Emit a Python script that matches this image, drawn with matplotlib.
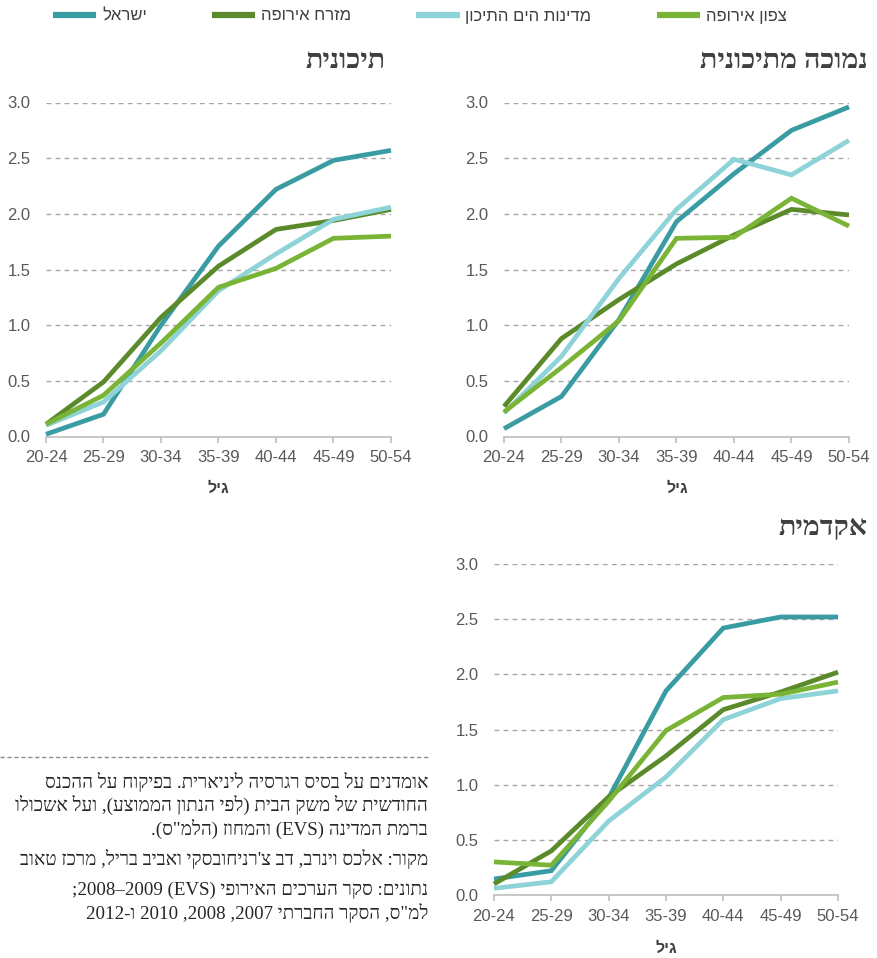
import re
import numpy as np
import matplotlib
matplotlib.use("Agg")
import matplotlib.pyplot as plt
from matplotlib.lines import Line2D

# ---------------- data ----------------
ages = ["20-24", "25-29", "30-34", "35-39", "40-44", "45-49", "50-54"]
series_names = ["ישראל", "מזרח אירופה", "מדינות הים התיכון", "צפון אירופה"]
series_colors = ["#3a9ca3", "#5a8a2a", "#8dd3d7", "#7ab436"]

# low education (נמוכה מתיכונית)
low_israel = [0.07, 0.36, 1.05, 1.93, 2.36, 2.75, 2.96]
low_east = [0.27, 0.88, 1.23, 1.55, 1.81, 2.04, 1.99]
low_med = [0.21, 0.72, 1.42, 2.04, 2.49, 2.35, 2.66]
low_north = [0.22, 0.62, 1.04, 1.78, 1.79, 2.14, 1.89]

# high school (תיכונית)
hs_israel = [0.02, 0.20, 1.00, 1.71, 2.22, 2.48, 2.57]
hs_east = [0.11, 0.49, 1.07, 1.53, 1.86, 1.94, 2.04]
hs_med = [0.10, 0.31, 0.77, 1.31, 1.64, 1.95, 2.06]
hs_north = [0.11, 0.37, 0.84, 1.34, 1.51, 1.78, 1.80]

# academic (אקדמית)
ac_israel = [0.145, 0.22, 0.88, 1.85, 2.42, 2.52, 2.52]
ac_east = [0.10, 0.40, 0.89, 1.26, 1.68, 1.84, 2.02]
ac_med = [0.06, 0.12, 0.67, 1.07, 1.59, 1.78, 1.85]
ac_north = [0.30, 0.27, 0.85, 1.49, 1.79, 1.82, 1.93]

yticks = [0.0, 0.5, 1.0, 1.5, 2.0, 2.5, 3.0]

title_low = "נמוכה מתיכונית"
title_hs = "תיכונית"
title_ac = "אקדמית"
xlabel = "גיל"

notes = [
    "אומדנים על בסיס רגרסיה ליניארית. בפיקוח על ההכנס",
    "החודשית של משק הבית (לפי הנתון הממוצע), ועל אשכולו",
    "ברמת המדינה (EVS) והמחוז (הלמ\"ס).",
    "מקור: אלכס וינרב, דב צ'רניחובסקי ואביב בריל, מרכז טאוב",
    "נתונים: סקר הערכים האירופי (EVS) 2008–2009;",
    "למ\"ס, הסקר החברתי 2007, 2008, 2010 ו-2012",
]


# ---------------- helpers ----------------
def vis(s):
    """Very small bidi: convert a logical RTL string into visual LTR order."""
    r = s[::-1]
    r = r.translate(str.maketrans("()", ")("))
    r = re.sub(r"[A-Za-z0-9]+(?:[–\-.][A-Za-z0-9]+)*", lambda m: m.group(0)[::-1], r)
    return r


W, H = 878, 958


def fx(x):
    return x / W


def fy(y):
    return 1 - y / H


SANS = ["Liberation Sans", "DejaVu Sans"]
SERIF = ["Liberation Serif", "DejaVu Serif", "DejaVu Sans"]
plt.rcParams["font.family"] = SANS

fig = plt.figure(figsize=(W / 100, H / 100), dpi=100)
fig.patch.set_facecolor("white")

TICK_COLOR = "#595959"
AX_COLOR = "#bfbfbf"
GRID_COLOR = "#a6a6a6"
LW = 3.4


def make_panel(x0, x1, ytop, ybot, data):
    ax = fig.add_axes([fx(x0), fy(ybot), (x1 - x0) / W, (ybot - ytop) / H])
    x = np.arange(len(ages))
    order = [2, 1, 3, 0]
    for i in order:
        ax.plot(x, data[i], color=series_colors[i], lw=LW, clip_on=False,
                solid_capstyle="butt", solid_joinstyle="miter", zorder=3 + i * 0.1)
    ax.set_xlim(0, len(ages) - 1)
    ax.set_ylim(0, 3)
    ax.set_xticks(x)
    ax.set_xticklabels(ages)
    ax.set_yticks(yticks)
    ax.set_yticklabels([f"{v:.1f}" for v in yticks])
    for s in ["left", "right", "top"]:
        ax.spines[s].set_visible(False)
    ax.spines["bottom"].set_color(AX_COLOR)
    ax.spines["bottom"].set_linewidth(1.2)
    ax.spines["bottom"].set_zorder(2.5)
    ax.tick_params(axis="y", length=0, pad=11, labelsize=12, labelcolor=TICK_COLOR)
    ax.tick_params(axis="x", length=4, width=1.2, color=AX_COLOR, pad=6,
                   labelsize=12, labelcolor=TICK_COLOR)
    ax.yaxis.grid(True, linestyle=(0, (3.5, 3)), color=GRID_COLOR, lw=1)
    ax.set_axisbelow(True)
    return ax


make_panel(504, 849, 102.5, 436.5, [low_israel, low_east, low_med, low_north])
make_panel(46, 391, 102.5, 436.5, [hs_israel, hs_east, hs_med, hs_north])
make_panel(494, 838, 564, 895, [ac_israel, ac_east, ac_med, ac_north])

TITLE_KW = dict(ha="right", va="center", fontsize=20.5, fontweight="bold",
                family=SERIF, color="#404040")
fig.text(fx(868), fy(62), vis(title_low), **TITLE_KW)
fig.text(fx(386), fy(62), vis(title_hs), **TITLE_KW)
fig.text(fx(868), fy(528), vis(title_ac), **TITLE_KW)

XL_KW = dict(ha="center", va="center", fontsize=11.5, fontweight="bold", color="#404040")
fig.text(fx(218), fy(488), vis(xlabel), **XL_KW)
fig.text(fx(677), fy(488), vis(xlabel), **XL_KW)
fig.text(fx(666), fy(948), vis(xlabel), **XL_KW)

# legend
handles = [Line2D([0], [0], color=c, lw=4.5, solid_capstyle="butt") for c in series_colors]
fig.legend(handles, [vis(n) for n in series_names], loc="center left",
           bbox_to_anchor=(fx(53), fy(16)), ncol=4, frameon=False,
           fontsize=12, handlelength=2.6, handletextpad=0.35, columnspacing=3.9,
           borderpad=0, borderaxespad=0, labelcolor="#404040")

# notes
fig.add_artist(Line2D([0, fx(428)], [fy(757), fy(757)], color="#8c8c8c", lw=1,
                      linestyle=(0, (3, 2))))
NOTE_KW = dict(ha="right", va="center", fontsize=13.6, family=SERIF, color="#262626")
note_y = [782, 805, 829, 859, 890, 913]
for t, y in zip(notes, note_y):
    fig.text(fx(428), fy(y), vis(t), **NOTE_KW)

fig.savefig("out.png", dpi=100, facecolor="white")
